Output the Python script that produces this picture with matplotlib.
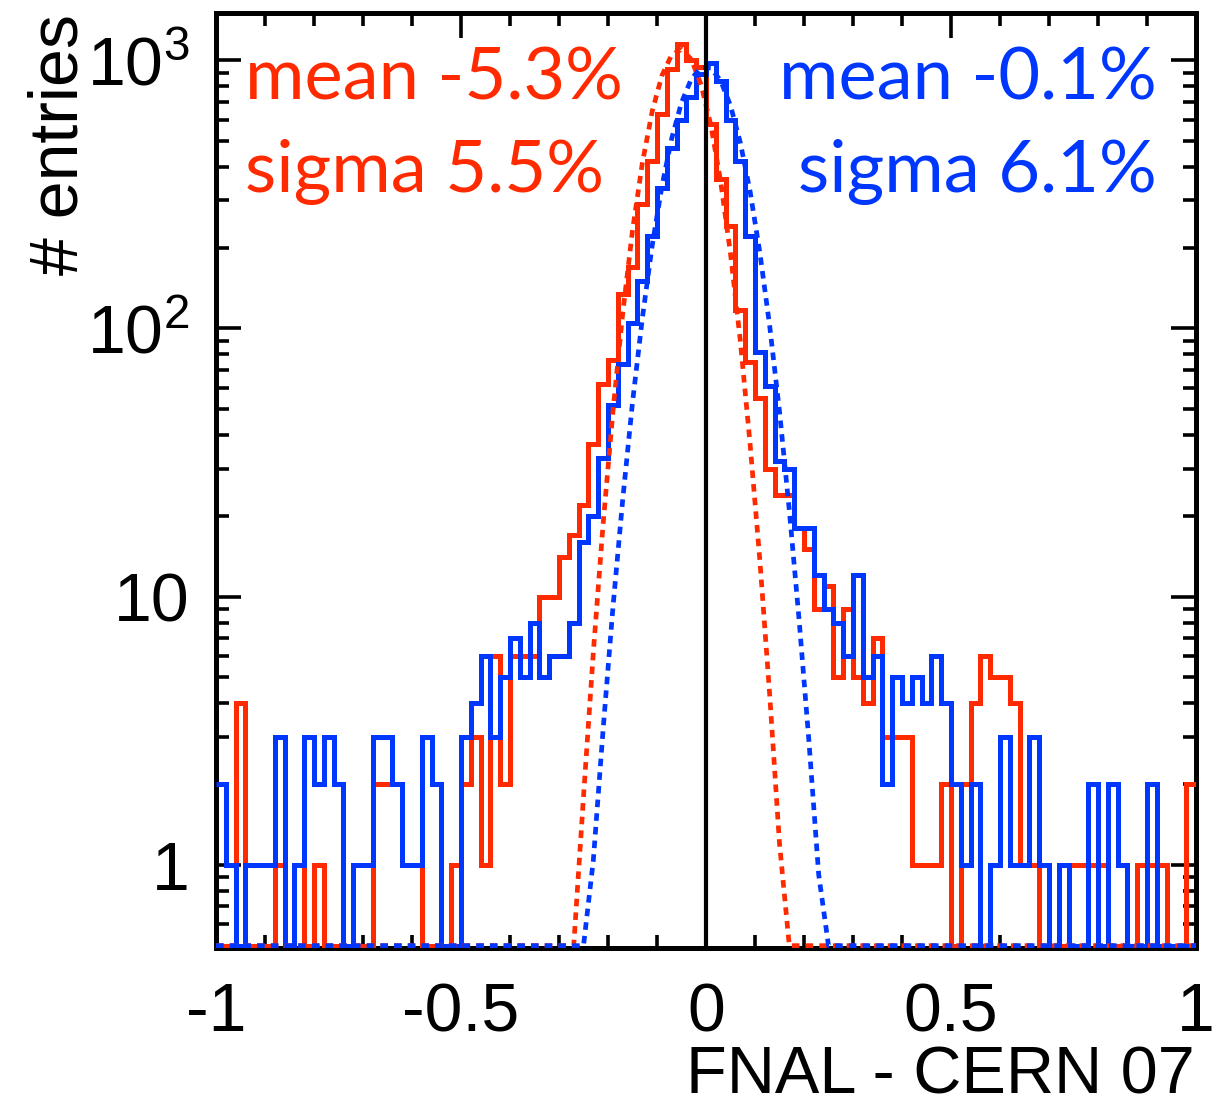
import numpy as np
import matplotlib
matplotlib.use('Agg')
import matplotlib.pyplot as plt
from matplotlib.ticker import MultipleLocator, LogLocator, NullFormatter

plt.rcParams['font.family'] = ['Liberation Sans', 'DejaVu Sans']
plt.rcParams['mathtext.fontset'] = 'custom'
plt.rcParams['mathtext.rm'] = 'Liberation Sans'

# histogram binning: 100 bins over [-1, 1]
x_lo, x_hi, n_bins = -1.0, 1.0, 100

# entries per bin (FNAL - CERN 07)
red_counts = [0, 0, 4, 0, 0, 0, 1, 0, 1, 0,
              1, 0, 0, 0, 0, 0, 2, 2, 2, 1,
              1, 0, 0, 0, 1, 2, 3, 1, 6, 2,
              6, 6, 6, 10, 10, 14, 17, 22, 37, 62,
              76, 135, 170, 290, 420, 630, 930, 1150, 1000, 940,
              580, 360, 240, 117, 75, 55, 30, 24, 24, 18,
              15, 9, 11, 5, 9, 5, 4, 7, 3, 3,
              3, 1, 1, 1, 2, 0, 2, 4, 6, 5,
              5, 4, 1, 1, 0, 0, 0, 1, 1, 1,
              1, 0, 0, 0, 1, 1, 1, 0, 0, 2]
blue_counts = [2, 1, 0, 1, 1, 1, 3, 0, 1, 3,
               2, 3, 2, 0, 1, 1, 3, 3, 2, 1,
               1, 3, 2, 0, 0, 3, 4, 6, 3, 5,
               7, 5, 8, 5, 6, 6, 8, 16, 20, 33,
               52, 74, 105, 150, 222, 335, 470, 600, 730, 890,
               975, 840, 600, 420, 222, 82, 61, 32, 30, 18,
               18, 12, 9, 8, 6, 12, 5, 6, 2, 5,
               4, 5, 4, 6, 4, 2, 1, 2, 0, 1,
               3, 1, 1, 3, 1, 0, 1, 0, 0, 2,
               0, 2, 1, 0, 0, 2, 0, 0, 0, 0]

# dotted gaussian fits
red_fit_x = [-1.0, -0.27, -0.25, -0.23, -0.21, -0.19, -0.17, -0.15, -0.13, -0.11, -0.09,
             -0.07, -0.05, -0.03, -0.01, 0.01, 0.03, 0.05, 0.07, 0.09, 0.11,
             0.13, 0.15, 0.17, 1.0]
red_fit_y = [0, 0.46, 1.8, 6.2, 18.7, 49, 114, 232, 413, 643, 877,
             1048, 1098, 1008, 810, 571, 352, 190, 90, 37, 13.6,
             4.3, 1.2, 0.3, 0]
blue_fit_x = [-1.0, -0.25, -0.23, -0.21, -0.19, -0.17, -0.15, -0.13, -0.11, -0.09, -0.07,
              -0.05, -0.03, -0.01, 0.01, 0.03, 0.05, 0.07, 0.09, 0.11, 0.13,
              0.15, 0.17, 0.19, 0.21, 0.23, 0.25, 1.0]
blue_fit_y = [0, 0.30, 1.04, 3.2, 9.1, 23, 53, 109, 203, 339, 511,
              696, 851, 940, 935, 838, 677, 493, 324, 191, 102,
              49, 21, 8.2, 2.9, 0.92, 0.26, 0]

red_text = ['mean -5.3%', 'sigma 5.5%']
blue_text = ['mean -0.1%', 'sigma 6.1%']

red = '#ff2a00'
blue = '#0037ff'
y_min, y_max = 0.49, 1500
floor = 0.5  # empty bins are drawn on the frame bottom

edges = np.linspace(x_lo, x_hi, n_bins + 1)

fig = plt.figure(figsize=(12.22, 11.11), dpi=100)
ax = fig.add_axes([0.1768, 0.1467, 0.8019, 0.8416])
ax.set_yscale('log')

ax.stairs(np.maximum(red_counts, floor), edges, baseline=None,
          color=red, lw=3.6, zorder=3)
ax.stairs(np.maximum(blue_counts, floor), edges, baseline=None,
          color=blue, lw=3.6, zorder=3.1)
ax.plot(red_fit_x, np.maximum(red_fit_y, floor), color=red, lw=3.4,
        linestyle=(0, (1.6, 1.3)), zorder=3.2)
ax.plot(blue_fit_x, np.maximum(blue_fit_y, floor), color=blue, lw=3.4,
        linestyle=(0, (1.6, 1.3)), zorder=3.3)
ax.axvline(0, color='black', lw=3.0, zorder=4)

ax.set_xlim(x_lo, x_hi)
ax.set_ylim(y_min, y_max)

for s in ax.spines.values():
    s.set_linewidth(3.6)
    s.set_zorder(2.5)

ax.xaxis.set_major_locator(MultipleLocator(0.5))
ax.xaxis.set_minor_locator(MultipleLocator(0.1))
ax.set_xticks([-1, -0.5, 0, 0.5, 1])
ax.set_xticklabels(['-1', '-0.5', '0', '0.5', '1'])
ax.set_yticks([1, 10, 100, 1000])
ax.set_yticklabels(['1', '10', r'$\mathregular{10^{2}}$', r'$\mathregular{10^{3}}$'])
ax.yaxis.set_minor_locator(LogLocator(base=10, subs=np.arange(2, 10), numticks=20))
ax.yaxis.set_minor_formatter(NullFormatter())

ax.tick_params(which='both', direction='in', top=True, right=True, width=2.6)
ax.tick_params(which='major', length=18, labelsize=49)
ax.tick_params(which='minor', length=9.5)
ax.tick_params(axis='y', which='major', pad=19)
ax.tick_params(axis='x', which='major', pad=24)

fig.text(92 / 1222, 1 - 14 / 1111, '# entries', rotation=90, ha='right', va='top',
         fontsize=49)
fig.text(1195 / 1222, 1 - 1094 / 1111, 'FNAL - CERN 07', ha='right', va='baseline',
         fontsize=48)

ax.text(0.0296, 0.907, red_text[0], transform=ax.transAxes, color=red,
        fontsize=52, family='Lato', ha='left', va='baseline', zorder=5)
ax.text(0.0296, 0.8086, red_text[1], transform=ax.transAxes, color=red,
        fontsize=52, family='Lato', ha='left', va='baseline', zorder=5)
ax.text(0.960, 0.907, blue_text[0], transform=ax.transAxes, color=blue,
        fontsize=52, family='Lato', ha='right', va='baseline', zorder=5)
ax.text(0.960, 0.8086, blue_text[1], transform=ax.transAxes, color=blue,
        fontsize=52, family='Lato', ha='right', va='baseline', zorder=5)

fig.savefig('out.png', dpi=100)
